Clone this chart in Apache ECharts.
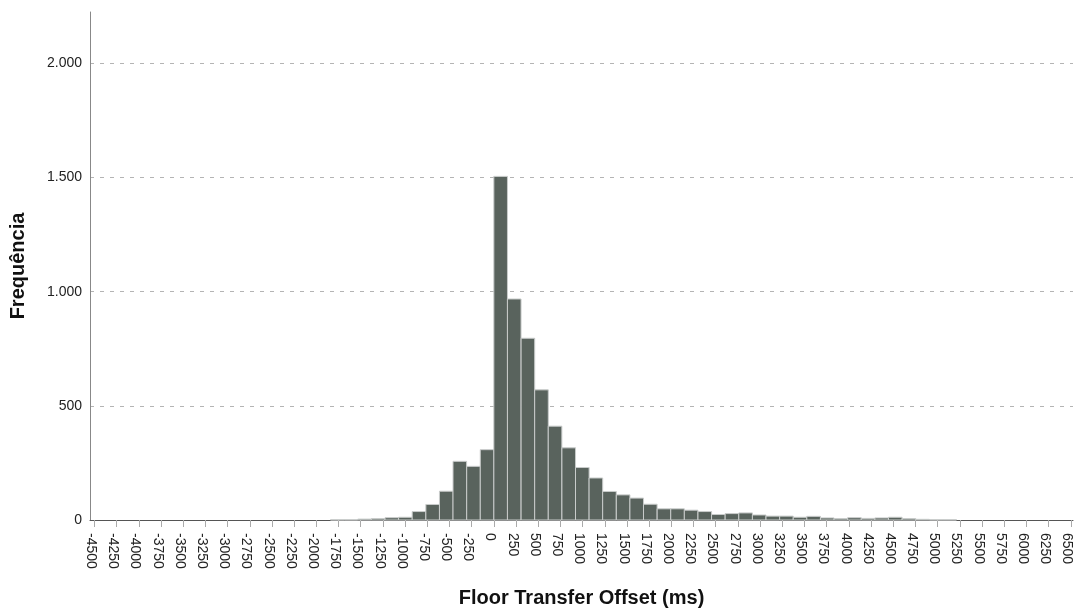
<!DOCTYPE html>
<html>
<head>
<meta charset="utf-8">
<script src="https://cdn.jsdelivr.net/npm/echarts@6/dist/echarts.min.js"></script>
<style>
html,body{margin:0;padding:0;background:#fff;}
#chart{width:1074px;height:612px;}
</style>
</head>
<body>
<div id="chart"></div>
<script>
// Histogram bins (lower edge, ms) and their counts
const binWidth = 153.3;
const binStarts = [-1840, -1686, -1533, -1380, -1226, -1073, -920, -766, -613, -460, -306, -153,
  0, 153, 307, 460, 613, 767, 920, 1073, 1226, 1380, 1533, 1686, 1840, 1993, 2146, 2300,
  2453, 2606, 2760, 2913, 3066, 3220, 3373, 3526, 3680, 3833, 3986, 4140, 4293, 4446,
  4600, 4753, 4906, 5059];
const counts = [1, 1, 4, 6, 10, 12, 37, 68, 126, 257, 235, 308,
  1505, 968, 796, 570, 411, 316, 230, 184, 125, 110, 96, 69, 49, 49, 43, 37,
  24, 28, 31, 22, 17, 17, 12, 16, 9, 6, 10, 7, 9, 12,
  6, 3, 1, 1];
const xTicks = [-4500, -4250, -4000, -3750, -3500, -3250, -3000, -2750, -2500, -2250, -2000,
  -1750, -1500, -1250, -1000, -750, -500, -250, 0, 250, 500, 750, 1000, 1250, 1500, 1750,
  2000, 2250, 2500, 2750, 3000, 3250, 3500, 3750, 4000, 4250, 4500, 4750, 5000, 5250,
  5500, 5750, 6000, 6250, 6500];
const yTicks = [0, 500, 1000, 1500, 2000];

const data = binStarts.map((s, i) => [s, s + binWidth, counts[i]]);

const chart = echarts.init(document.getElementById('chart'), null, {renderer: 'canvas'});
const font = 'Liberation Sans, Arial, sans-serif';
chart.setOption({
  animation: false,
  backgroundColor: '#ffffff',
  grid: {left: 90, right: 1, top: 12, bottom: 92, containLabel: false, outerBoundsMode: 'none'},
  xAxis: {
    type: 'value',
    min: -4550,
    max: 6525,
    name: 'Floor Transfer Offset (ms)',
    nameLocation: 'middle',
    nameGap: 68,
    nameTextStyle: {fontFamily: font, fontSize: 20, fontWeight: 'bold', color: '#111'},
    axisLine: {show: true, onZero: false, lineStyle: {color: '#555', width: 1}},
    axisTick: {show: true, length: 7, lineStyle: {color: '#aaa'}, customValues: xTicks},
    axisLabel: {show: true, rotate: -90, margin: 13, fontFamily: font, fontSize: 14, color: '#222',
      verticalAlign: 'top', lineHeight: 7,
      customValues: xTicks, formatter: v => String(v)},
    splitLine: {show: false}
  },
  yAxis: {
    type: 'value',
    min: 0,
    max: 2225,
    interval: 500,
    name: 'Frequência',
    nameLocation: 'middle',
    nameGap: 62,
    nameRotate: 90,
    nameTextStyle: {fontFamily: font, fontSize: 20, fontWeight: 'bold', color: '#111'},
    axisLine: {show: true, onZero: false, lineStyle: {color: '#888', width: 1}},
    axisTick: {show: false},
    axisLabel: {show: true, margin: 8, fontFamily: font, fontSize: 14, color: '#222',
      showMaxLabel: false,
      formatter: v => v >= 1000 ? (v / 1000).toFixed(3) : String(v)},
    splitLine: {show: true, showMinLine: false, showMaxLine: false,
      lineStyle: {color: '#b4b4b4', type: [4, 6], width: 1}}
  },
  series: [{
    type: 'custom',
    data: data,
    encode: {x: [0, 1], y: 2},
    renderItem: function (params, api) {
      const x0 = api.value(0), x1 = api.value(1), y = api.value(2);
      const p0 = api.coord([x0, y]);
      const p1 = api.coord([x1, 0]);
      return {
        type: 'rect',
        shape: {x: p0[0], y: p0[1], width: p1[0] - p0[0], height: p1[1] - p0[1]},
        style: {fill: '#59635d', stroke: '#c9cccb', lineWidth: 1}
      };
    }
  }]
});
</script>
</body>
</html>
